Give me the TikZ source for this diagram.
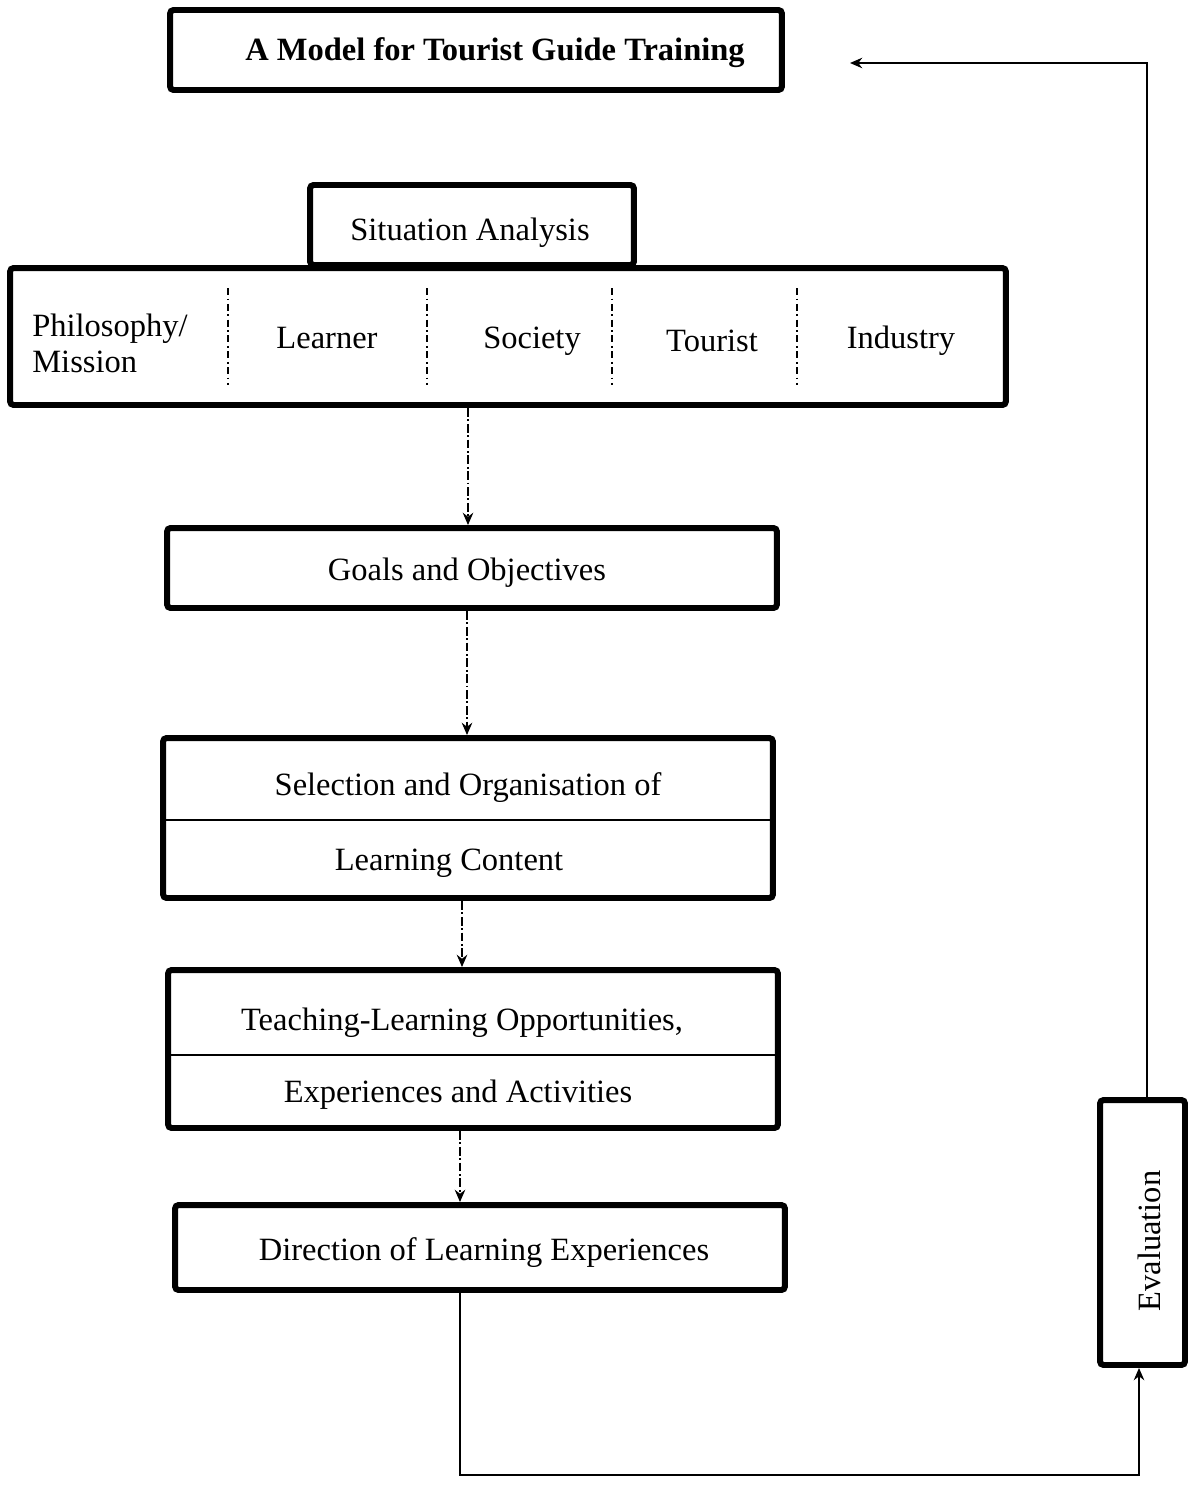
\documentclass[tikz,border=0pt]{standalone}
\usepackage{fontspec}
\setmainfont{Liberation Serif}
\usetikzlibrary{arrows.meta}
\begin{document}
\begin{tikzpicture}[x=0.02cm,y=-0.02cm,
  box/.style={draw, line width=3.4pt, rounded corners=2pt, inner sep=0pt},
  lbl/.style={font=\fontsize{18.5}{20.5}\selectfont, inner sep=0pt},
  divider/.style={line width=0.9pt},
  sep/.style={line width=0.6pt, dash pattern=on 4pt off 2pt on 1pt off 2pt},
  tipstyle/.style={-{Stealth[length=7pt,width=6pt]}},
  flow/.style={line width=0.8pt, dash pattern=on 5pt off 1.5pt on 1pt off 1.5pt, tipstyle},
  loop/.style={line width=0.8pt}
]
\useasboundingbox (0,0) rectangle (1194,1494);

% title
\node[box, minimum width=12.24cm, minimum height=1.6cm] (title) at (476,50) {};
\node[lbl, font=\fontsize{18.5}{20.5}\selectfont\bfseries] (titletext) at (495,53) {A Model for Tourist Guide Training};

% situation analysis
\node[box, minimum width=19.92cm, minimum height=2.74cm] (sit) at (508,336.5) {};
\node[box, minimum width=6.48cm, minimum height=1.6cm] (sithead) at (472,225) {};
\node[lbl] (sittext) at (470,233) {Situation Analysis};
\node[lbl, anchor=west, align=left] (phil) at (32,343) {Philosophy/\\Mission};
\node[lbl] (learner) at (327,338) {Learner};
\node[lbl] (society) at (532,341) {Society};
\node[lbl] (tourist) at (712,341) {Tourist};
\node[lbl] (industry) at (901,341) {Industry};
\foreach \x in {228,427,612,797}
  \draw[sep] (\x,288) -- (\x,385);

% goals
\node[box, minimum width=12.2cm, minimum height=1.6cm] (goals) at (472,568) {};
\node[lbl] (goalstext) at (467,573) {Goals and Objectives};

% selection of content
\node[box, minimum width=12.2cm, minimum height=3.2cm] (sel) at (468,818) {};
\draw[divider] (sel.west |- 0,820) -- (sel.east |- 0,820);
\node[lbl] (sel1) at (468,788) {Selection and Organisation of};
\node[lbl] (sel2) at (449,863) {Learning Content};

% teaching-learning opportunities
\node[box, minimum width=12.2cm, minimum height=3.16cm] (teach) at (473,1049) {};
\draw[divider] (teach.west |- 0,1055) -- (teach.east |- 0,1055);
\node[lbl] (teach1) at (462,1023) {Teaching-Learning Opportunities,};
\node[lbl] (teach2) at (458,1095) {Experiences and Activities};

% direction
\node[box, minimum width=12.2cm, minimum height=1.7cm] (dir) at (480,1247.5) {};
\node[lbl] (dirtext) at (484,1253) {Direction of Learning Experiences};

% evaluation
\node[box, minimum width=1.7cm, minimum height=5.3cm] (eval) at (1142.5,1232.5) {};
\node[lbl, rotate=90] (evaltext) at (1149,1241) {Evaluation};

% flow between stages
\coordinate (x1) at (468,0);
\coordinate (x2) at (467,0);
\coordinate (x3) at (462,0);
\coordinate (x4) at (460,0);
\draw[flow] (sit.south -| x1) -- (goals.north -| x1);
\draw[flow] (goals.south -| x2) -- (sel.north -| x2);
\draw[flow] (sel.south -| x3) -- (teach.north -| x3);
\draw[flow] (teach.south -| x4) -- (dir.north -| x4);

% feedback loop through evaluation
\coordinate (xe1) at (1139,0);
\coordinate (xe2) at (1147,0);
\coordinate (bot) at (0,1475);
\coordinate (topy) at (0,63);
\coordinate (tip) at (850,63);
\draw[loop, tipstyle] (dir.south -| x4) -- (x4 |- bot) -- (xe1 |- bot) -- (eval.south -| xe1);
\draw[loop, tipstyle] (eval.north -| xe2) -- (xe2 |- topy) -- (tip);
\end{tikzpicture}
\end{document}
